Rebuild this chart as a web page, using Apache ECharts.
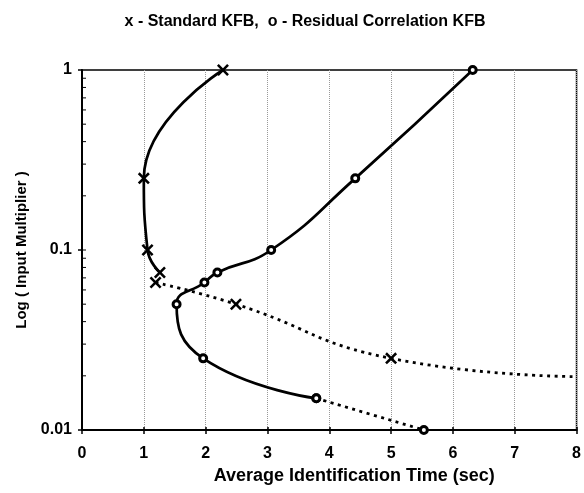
<!DOCTYPE html>
<html>
<head>
<meta charset="utf-8">
<script src="https://cdn.jsdelivr.net/npm/echarts@6/dist/echarts.min.js"></script>
<style>
  html, body { margin: 0; padding: 0; background: #fff; }
  #chart { width: 584px; height: 493px; }
</style>
</head>
<body>
<div id="chart"></div>
<script>
// Standard KFB (x markers): solid part, then dotted tail
const stdSolidX = [2.28, 1.0, 1.06, 1.26];
const stdSolidY = [1, 0.25, 0.1, 0.075];
const stdDashX = [1.19, 2.49, 5.0, 8.0];
const stdDashY = [0.066, 0.05, 0.025, 0.0198];
const stdDashMarked = [true, true, true, false];

// Residual Correlation KFB (o markers)
const rcSolidX = [6.32, 4.42, 3.06, 2.19, 1.98, 1.53, 1.96, 3.79];
const rcSolidY = [1, 0.25, 0.1, 0.075, 0.066, 0.05, 0.025, 0.015];
const rcDashX = [3.79, 5.53];
const rcDashY = [0.015, 0.01];

// inner tick marks on the log axis
const yInnerTicks = [0.02, 0.03, 0.04, 0.05, 0.06, 0.07, 0.08, 0.09, 0.1,
  0.2, 0.3, 0.4, 0.5, 0.6, 0.7, 0.8, 0.9];

const FONT = "'Liberation Sans', Arial, sans-serif";
const X_MARK = "path://M0,1.5L1.5,0L5,3.5L8.5,0L10,1.5L6.5,5L10,8.5L8.5,10L5,6.5L1.5,10L0,8.5L3.5,5Z";

const pts = (xs, ys) => xs.map((x, i) => [x, ys[i]]);

const chart = echarts.init(document.getElementById("chart"));

const lineBase = {
  type: "line",
  smooth: 0.5,
  animation: false,
  xAxisIndex: 0,
  yAxisIndex: 0,
  z: 3,
};

const option = {
  animation: false,
  title: {
    text: "x - Standard KFB,  o - Residual Correlation KFB",
    left: 300,
    textAlign: "center",
    top: 9,
    textStyle: { fontFamily: FONT, fontSize: 16, fontWeight: "bold", color: "#000" },
  },
  grid: {
    left: 82, right: 7, top: 70, bottom: 63,
    show: true, borderColor: "#000", borderWidth: 1.5,
  },
  xAxis: [
    {
      type: "value",
      min: 0, max: 8, interval: 1,
      name: "Average Identification Time (sec)",
      nameLocation: "middle",
      nameGap: 37,
      nameTextStyle: {
        fontFamily: FONT, fontSize: 18, fontWeight: "bold", color: "#000",
        padding: [0, 0, 0, 50],
      },
      axisLine: { show: true, lineStyle: { color: "#000", width: 2 } },
      axisTick: { show: true, length: 4, lineStyle: { color: "#000", width: 1.5 } },
      axisLabel: {
        margin: 16,
        fontFamily: FONT, fontSize: 16, fontWeight: "bold", color: "#000",
      },
      splitLine: { show: true, lineStyle: { color: "#999", type: "dotted", width: 1 } },
    },
    {
      type: "value",
      min: 0, max: 8, interval: 1,
      position: "bottom",
      axisLine: { show: false },
      axisTick: { show: true, inside: true, length: 3, lineStyle: { color: "#000", width: 1.5 } },
      axisLabel: { show: false },
      splitLine: { show: false },
    },
  ],
  yAxis: {
    type: "log",
    logBase: 10,
    min: 0.01, max: 1,
    name: "Log ( Input Multiplier )",
    nameLocation: "middle",
    nameGap: 53,
    nameTextStyle: { fontFamily: FONT, fontSize: 15, fontWeight: "bold", color: "#000" },
    axisLine: { show: true, lineStyle: { color: "#000", width: 2 } },
    axisTick: { show: true, length: 4, lineStyle: { color: "#000", width: 1.5 } },
    axisLabel: {
      margin: 10,
      fontFamily: FONT, fontSize: 16, fontWeight: "bold", color: "#000",
      formatter: (v) => String(+v.toPrecision(3)),
    },
    splitLine: { show: false },
  },
  series: [
    {
      type: "custom",
      xAxisIndex: 0,
      yAxisIndex: 0,
      silent: true,
      z: 2,
      data: yInnerTicks.map((v) => [0, v]),
      renderItem: (params, api) => {
        const p = api.coord([0, api.value(1)]);
        return {
          type: "line",
          shape: { x1: p[0], y1: p[1], x2: p[0] + 4, y2: p[1] },
          style: { stroke: "#000", lineWidth: 1 },
        };
      },
    },
    Object.assign({}, lineBase, {
      name: "Standard KFB",
      data: pts(stdSolidX, stdSolidY),
      symbol: X_MARK,
      symbolSize: 12,
      lineStyle: { color: "#000", width: 2.7 },
      itemStyle: { color: "#000" },
    }),
    Object.assign({}, lineBase, {
      name: "Standard KFB (tail)",
      data: pts(stdDashX, stdDashY).map((p, i) =>
        stdDashMarked[i] ? p : { value: p, symbol: "none" }),
      symbol: X_MARK,
      symbolSize: 12,
      lineStyle: { color: "#000", width: 2.8, type: [3, 4.5] },
      itemStyle: { color: "#000" },
    }),
    Object.assign({}, lineBase, {
      name: "Residual Correlation KFB",
      data: pts(rcSolidX, rcSolidY),
      symbol: "circle",
      symbolSize: 7,
      lineStyle: { color: "#000", width: 2.7 },
      itemStyle: { color: "#fff", borderColor: "#000", borderWidth: 3 },
    }),
    Object.assign({}, lineBase, {
      name: "Residual Correlation KFB (tail)",
      data: pts(rcDashX, rcDashY),
      symbol: "circle",
      symbolSize: 7,
      lineStyle: { color: "#000", width: 2.8, type: [3, 4.5] },
      itemStyle: { color: "#fff", borderColor: "#000", borderWidth: 3 },
    }),
  ],
};

chart.setOption(option);
</script>
</body>
</html>
